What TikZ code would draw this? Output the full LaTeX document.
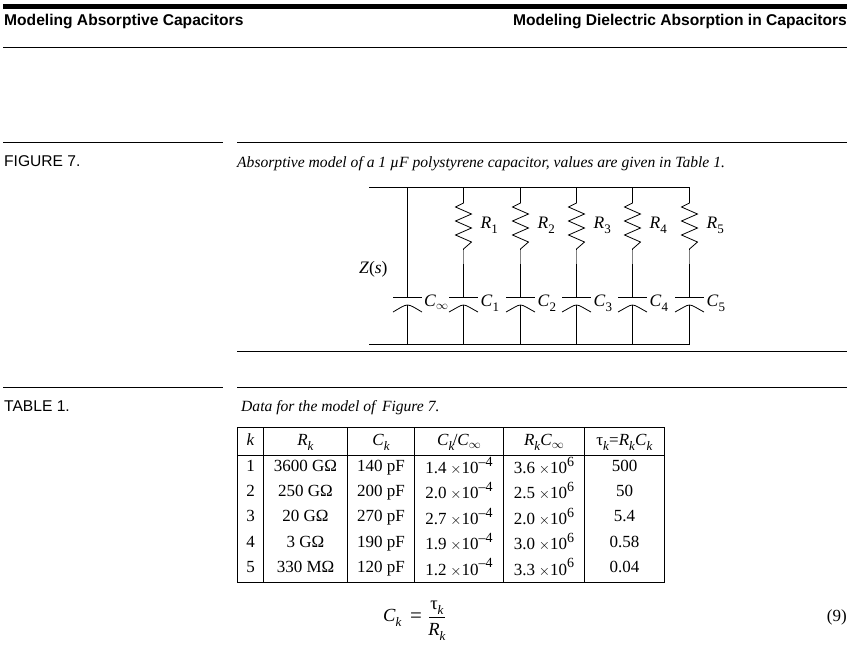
\documentclass[tikz,border=0pt]{standalone}
\usepackage{fontspec}
\setmainfont{Liberation Serif}
\newfontfamily\headfont{Liberation Sans}
\newcommand{\subk}[1]{\raisebox{-.3em}{\fontsize{13}{14}\selectfont\textit{#1}}}
\newcommand{\subn}[1]{\raisebox{-.3em}{\fontsize{13}{14}\selectfont #1}}
\newcommand{\subinf}{\raisebox{-.22em}{\fontsize{12}{13}\selectfont$\infty$}}
\newcommand{\powten}[1]{\kern.22em{\fontsize{14}{14}\selectfont$\times$}10\raisebox{.42em}{\fontsize{14}{14}\selectfont #1}}
\tikzset{
  headtext/.style={font=\headfont\bfseries\fontsize{15.6}{17}\selectfont, anchor=base, inner sep=0pt},
  sidetext/.style={font=\headfont\fontsize{15.6}{17}\selectfont, anchor=base west, inner sep=0pt},
  captext/.style={font=\itshape\fontsize{15.6}{17}\selectfont, anchor=base west, inner sep=0pt},
  lab/.style={font=\fontsize{17.5}{19}\selectfont, anchor=base west, inner sep=0pt},
  cell/.style={font=\fontsize{17}{19}\selectfont, anchor=base, inner sep=0pt},
  eqtext/.style={font=\fontsize{18.5}{20}\selectfont, anchor=base, inner sep=0pt},
  rule/.style={line width=1pt},
  wire/.style={line width=.8pt},
  gridline/.style={line width=1pt}
}
\begin{document}
\begin{tikzpicture}[x=1pt, y=-1pt]
\useasboundingbox (0,0) rectangle (852,649);
% page head
\fill (3,4) rectangle (847,9);
\node[headtext, anchor=base west] (lefthead) at (4,25) {Modeling Absorptive Capacitors};
\node[headtext, anchor=base east] (righthead) at (847,25) {Modeling Dielectric Absorption in Capacitors};
\draw[rule] (3,47.5)--(847,47.5);
% rules
\draw[rule] (3,142.5)--(223,142.5);
\draw[rule] (237,142.5)--(847,142.5);
\draw[rule] (237,351.5)--(847,351.5);
\draw[rule] (3,387.5)--(223,387.5);
\draw[rule] (237,387.5)--(847,387.5);
\node[sidetext] (figlabel) at (4,166) {FIGURE 7.};
\node[captext] (figcap) at (237,167) {Absorptive model of a 1 \textmu F polystyrene capacitor, values are given in Table 1.};
\node[sidetext] (tablabel) at (4,411) {TABLE 1.};
\node[captext] (tabcap) at (241,411) {Data for the model of\, Figure 7.};
% circuit
\coordinate (topl) at (369,187.5);
\coordinate (topr) at (689.5,187.5);
\coordinate (botl) at (369,344.5);
\coordinate (botr) at (689.5,344.5);
\draw[wire] (topl)--(topr);
\draw[wire] (botl)--(botr);
\node[lab] (zs) at (359,273) {\textit{Z}(\textit{s})};
\coordinate (tinf) at (407.5,187.5);
\coordinate (binf) at (407.5,344.5);
\draw[wire] (tinf)--(407.5,297);
\draw[wire] (393,297)--(421.5,297);
\draw[wire] (393,312) .. controls (400,308) and (404,305) .. (407.5,305) .. controls (411,305) and (415,308) .. (422,312);
\draw[wire] (407.5,305)--(binf);
\node[lab] (cinf) at (424,306) {\textit{C}\subinf};
\foreach \k/\bx in {1/463.5,2/520.5,3/576.5,4/632.5,5/689.5}{
  \coordinate (t\k) at (\bx,187.5);
  \coordinate (b\k) at (\bx,344.5);
  \draw[wire] (t\k)--(\bx,203)--++(-8,4)--++(16,7)--++(-16,7)--++(16,7)--++(-16,7)--++(16,7)--++(-8,7)--(\bx,250);
  \draw[wire, gray] (\bx,250)--(\bx,264);
  \draw[wire] (\bx,264)--(\bx,297);
  \draw[wire] (\bx-14.5,297)--(\bx+14.5,297);
  \draw[wire] (\bx-14.5,312) .. controls (\bx-7,308) and (\bx-3,305) .. (\bx,305) .. controls (\bx+3,305) and (\bx+7,308) .. (\bx+14.5,312);
  \draw[wire] (\bx,305)--(b\k);
  \node[lab] (rlab\k) at (\bx+17,228) {\textit{R}\subn{\k}};
  \node[lab] (clab\k) at (\bx+17,306) {\textit{C}\subn{\k}};
}
% table
\draw[gridline] (237.5,427.5) rectangle (664.5,582);
\draw[gridline] (237.5,455.5)--(664.5,455.5);
\foreach \cx in {263.5,347.5,414.5,503.5,584.5}{
  \draw[gridline] (\cx,427.5)--(\cx,582);
}
\node[cell] (hk) at (250.5,445) {\textit{k}};
\node[cell] (hr) at (305.5,445) {\textit{R}\subk{k}};
\node[cell] (hc) at (381,445) {\textit{C}\subk{k}};
\node[cell] (hq) at (459,445) {\textit{C}\subk{k}\kern-.1em/\textit{C}\subinf};
\node[cell] (hp) at (544,445) {\textit{R}\subk{k}\textit{C}\subinf};
\node[cell] (ht) at (624.5,445) {τ\subk{k}=\textit{R}\subk{k}\textit{C}\subk{k}};
\foreach \k/\rk/\ck/\qk/\pk/\tk [evaluate=\k as \rowy using 471+25.4*(\k-1), evaluate=\k as \powy using 473.5+25.4*(\k-1)] in {
  1/3600 GΩ/140 pF/1.4/3.6/500,
  2/250 GΩ/200 pF/2.0/2.5/50,
  3/20 GΩ/270 pF/2.7/2.0/5.4,
  4/3 GΩ/190 pF/1.9/3.0/0.58,
  5/330 MΩ/120 pF/1.2/3.3/0.04}{
  \node[cell] (k\k) at (250.5,\rowy) {\k};
  \node[cell] (r\k) at (305.5,\rowy) {\rk};
  \node[cell] (c\k) at (381,\rowy) {\ck};
  \node[cell] (q\k) at (459,\powy) {\qk\powten{--4}};
  \node[cell] (p\k) at (544,\powy) {\pk\powten{6}};
  \node[cell] (tau\k) at (624.5,\rowy) {\tk};
}
% equation
\node[eqtext, anchor=base west] (eqc) at (383,621) {\textit{C}\subk{k}};
\node[eqtext, anchor=base west, font=\fontsize{21}{22}\selectfont] (eqeq) at (410,622) {=};
\node[eqtext] (eqt) at (437,609) {τ\subk{k}};
\node[eqtext] (eqr) at (437,635) {\textit{R}\subk{k}};
\draw[wire] (429,617)--(445,617);
\node[cell, anchor=base east] (eqn) at (847,621) {(9)};
\end{tikzpicture}
\end{document}
